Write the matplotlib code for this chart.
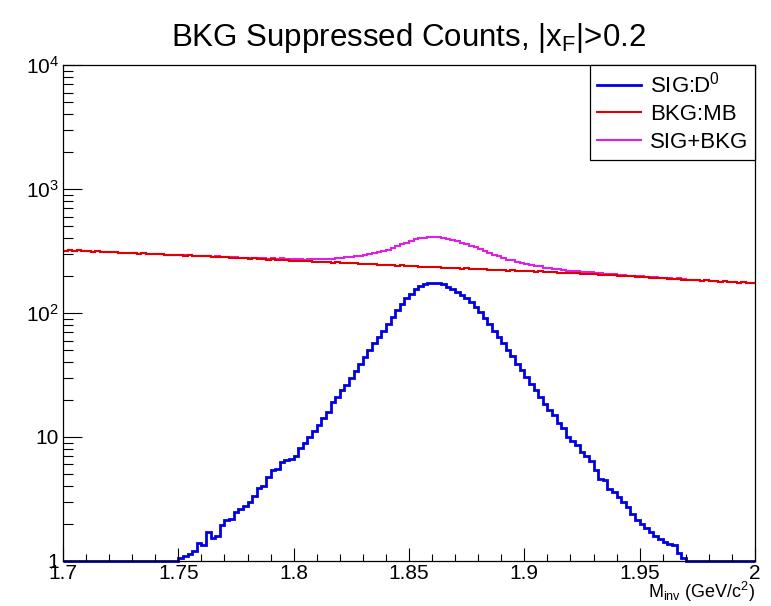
import numpy as np
import matplotlib
matplotlib.use("Agg")
import matplotlib.pyplot as plt
from matplotlib.ticker import MultipleLocator, LogLocator, NullFormatter

plt.rcParams['font.family'] = ['Liberation Sans', 'DejaVu Sans']
plt.rcParams['mathtext.fontset'] = 'custom'
plt.rcParams['mathtext.rm'] = 'Liberation Sans'
plt.rcParams['mathtext.it'] = 'Liberation Sans:italic'

# histogram binning: 150 bins from 1.7 to 2.0 GeV/c^2
x_lo, x_hi, n_bins = 1.7, 2.0, 150

# signal D0 counts, bins 1.750 .. 1.968 (everything else empty)
sig_core = [
    1.05, 1.10, 1.14, 1.21, 1.40, 1.35, 1.72, 1.53, 1.59, 1.95,
    2.14, 2.18, 2.48, 2.62, 2.77, 3.00, 3.33, 3.90, 4.00, 4.76,
    5.40, 5.50, 6.30, 6.50, 6.70, 7.00, 8.10, 8.90, 10.0, 11.2,
    12.4, 14.2, 16.0, 19.0, 21.0, 24.0, 26.5, 30.0, 34.0, 39.0,
    44.0, 50.0, 57.0, 64.0, 72.0, 82.0, 93.0, 106, 119, 131,
    143, 155, 165, 171, 174, 176, 175, 170, 162, 155,
    148, 140, 132, 122, 112, 101, 91.0, 82.0, 72.0, 64.0,
    57.0, 50.0, 45.0, 39.0, 35.0, 30.5, 27.0, 24.0, 21.0, 18.5,
    16.5, 15.0, 13.0, 11.8, 10.0, 9.30, 8.60, 7.50, 7.00, 6.40,
    5.40, 4.60, 4.50, 3.80, 3.60, 3.30, 3.00, 2.70, 2.40, 2.15,
    2.00, 1.85, 1.70, 1.60, 1.50, 1.42, 1.38, 1.35, 1.15, 1.06,
]
sig = np.array([0.0] * 25 + sig_core + [0.0] * (n_bins - 25 - len(sig_core)))

# minimum-bias background counts
bkg = np.array([
    319, 321, 317, 320, 316, 314, 312, 315, 310, 312,
    308, 310, 306, 307, 303, 305, 301, 303, 299, 300,
    297, 298, 295, 296, 292, 294, 290, 291, 288, 289,
    286, 287, 283, 285, 281, 282, 279, 280, 276, 277,
    274, 276, 272, 273, 270, 271, 268, 269, 266, 265,
    264, 265, 261, 263, 259, 260, 257, 258, 255, 256,
    253, 254, 251, 252, 249, 250, 247, 248, 245, 246,
    243, 244, 241, 242, 239, 240, 238, 237, 235, 236,
    234, 235, 232, 231, 230, 231, 228, 229, 226, 227,
    225, 226, 223, 224, 222, 222, 220, 221, 218, 219,
    219, 217, 216, 217, 214, 215, 213, 212, 211, 210,
    209, 210, 207, 208, 206, 205, 204, 203, 202, 201,
    199, 200, 197, 198, 196, 195, 194, 193, 192, 191,
    190, 189, 188, 189, 186, 185, 185, 184, 182, 183,
    181, 180, 179, 180, 178, 177, 176, 177, 175, 174,
], dtype=float)

edges = np.linspace(x_lo, x_hi, n_bins + 1)
x_ticks = [1.7, 1.75, 1.8, 1.85, 1.9, 1.95, 2.0]
x_tick_labels = ['1.7', '1.75', '1.8', '1.85', '1.9', '1.95', '2']
y_ticks = [1, 10, 100, 1000, 10000]
y_tick_labels = ['1', '10', '$10^{2}$', '$10^{3}$', '$10^{4}$']

fig = plt.figure(figsize=(7.71, 6.06), dpi=100)
ax = fig.add_axes([0.0817, 0.0743, 0.8975, 0.8184])

ax.stairs(sig + bkg, edges, baseline=None, color='#e31ee3', lw=1.5, label='SIG+BKG')
ax.stairs(bkg, edges, baseline=None, color='#e00000', lw=1.5, label='BKG:MB')
# empty bins drawn on the bottom of the log axis, as ROOT does
ax.stairs(np.maximum(sig, 1.0), edges, baseline=None, color='#0000e0', lw=2.0,
          label='SIG:D$^{0}$', clip_on=False)

ax.set_yscale('log')
ax.set_xlim(x_lo, x_hi)
ax.set_ylim(1, 1e4)

ax.set_xticks(x_ticks)
ax.set_xticklabels(x_tick_labels)
ax.xaxis.set_minor_locator(MultipleLocator(0.01))
ax.set_yticks(y_ticks)
ax.set_yticklabels(y_tick_labels)
ax.yaxis.set_minor_locator(LogLocator(base=10, subs=range(2, 10)))
ax.yaxis.set_minor_formatter(NullFormatter())

ax.tick_params(axis='x', which='major', direction='in', length=9.5, width=0.8,
               labelsize=15, pad=2)
ax.tick_params(axis='x', which='minor', direction='in', length=5, width=0.8)
ax.tick_params(axis='y', which='major', direction='in', length=14, width=0.8,
               labelsize=15, pad=3)
ax.tick_params(axis='y', which='minor', direction='in', length=7, width=0.8)
for s in ax.spines.values():
    s.set_linewidth(0.9)

ax.set_xlabel(r'M$_{\mathrm{inv}}$ (GeV/c$^{2}$)', loc='right', fontsize=13,
              labelpad=-2)
ax.set_title(r'BKG Suppressed Counts, |x$_{\mathrm{F}}$|>0.2', fontsize=22.5, pad=14)

h, l = ax.get_legend_handles_labels()
leg = ax.legend(h[::-1], l[::-1], loc='upper right', bbox_to_anchor=(1.0, 1.0),
                borderaxespad=0, fancybox=False, framealpha=1, edgecolor='black',
                fontsize=16, handlelength=2.0, handletextpad=0.4,
                labelspacing=0.3, borderpad=0.3)
leg.get_frame().set_linewidth(0.9)

fig.savefig('out.png', dpi=100)
